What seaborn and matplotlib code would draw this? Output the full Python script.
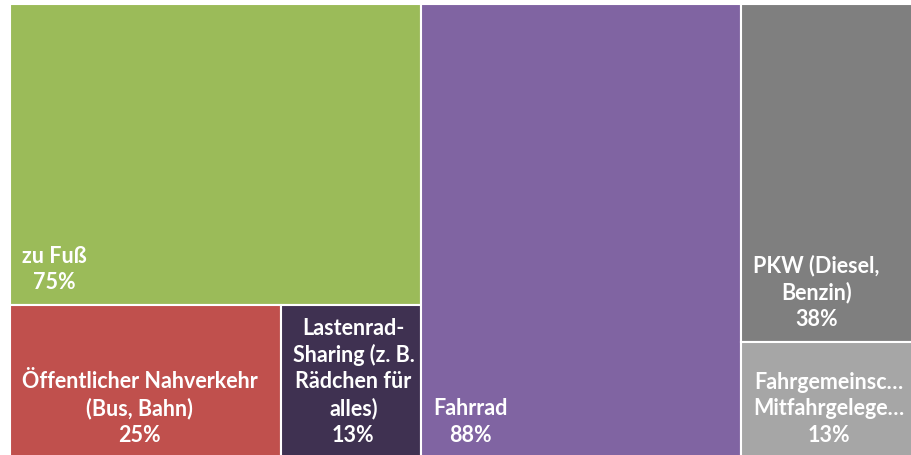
import matplotlib
matplotlib.use("Agg")
import matplotlib.pyplot as plt
import seaborn as sns
import numpy as np

# Modes of transport and their shares (percent)
categories = [
    "zu Fuß",
    "Öffentlicher Nahverkehr\n(Bus, Bahn)",
    "Lastenrad-\nSharing (z. B.\nRädchen für\nalles)",
    "Fahrrad",
    "PKW (Diesel,\nBenzin)",
    "Fahrgemeinsc…\nMitfahrgelege…",
]
shares = [75, 25, 13, 88, 38, 13]
colors = ["#9BBB59", "#C0504D", "#3F3151", "#8064A2", "#7F7F7F", "#A6A6A6"]

# Treemap structure: column index and row index within the column
column_of = [0, 0, 0, 1, 2, 2]
row_of = [0, 1, 1, 0, 0, 1]

sns.set_theme(style="white")
plt.rcParams["font.family"] = ["Lato", "DejaVu Sans"]

fig = plt.figure(figsize=(9.12, 4.55), dpi=100)
ax = fig.add_axes([0, 0, 1, 1])
ax.set_xlim(0, 912)
ax.set_ylim(455, 0)
ax.axis("off")

# Overall treemap frame (extends past the right and bottom edges)
X0, Y0, W, H = 10.0, 4.0, 917.0, 453.5

values = np.array(shares, dtype=float)
total = values.sum()
rects = [None] * len(values)
cx = X0
for c in sorted(set(column_of)):
    idx_c = [i for i in range(len(values)) if column_of[i] == c]
    ctot = values[idx_c].sum()
    cw = W * ctot / total
    cy = Y0
    for r in sorted(set(row_of[i] for i in idx_c)):
        idx_r = [i for i in idx_c if row_of[i] == r]
        rtot = values[idx_r].sum()
        rh = H * rtot / ctot
        rx = cx
        for i in idx_r:
            w = cw * values[i] / rtot
            rects[i] = (rx, cy, w, rh)
            rx += w
        cy += rh
    cx += cw

for i, (x, y, w, h) in enumerate(rects):
    ax.bar(x, h, width=w, bottom=y, align="edge", color=colors[i],
           edgecolor="white", linewidth=1.5)
    label = f"{categories[i]}\n{shares[i]}%"
    ax.text(x + 12, y + h - 12, label, ha="left", va="bottom",
            multialignment="center", color="white", fontsize=15.5,
            fontweight="bold", linespacing=1.3)

fig.savefig("out.png", dpi=100)
